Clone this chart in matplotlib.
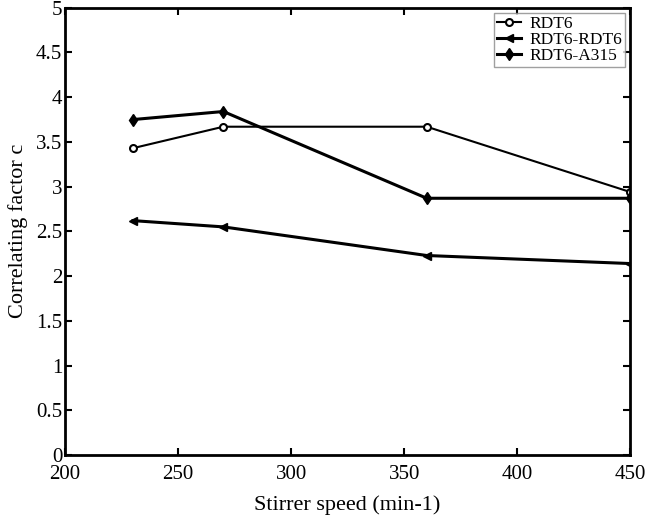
import matplotlib.pyplot as plt

speed = [230, 270, 360, 450]
rdt6 = [3.43, 3.67, 3.67, 2.94]
rdt6_rdt6 = [2.62, 2.55, 2.23, 2.14]
rdt6_a315 = [3.75, 3.84, 2.87, 2.87]

plt.rcParams['font.family'] = ['Liberation Serif', 'DejaVu Serif']

fig = plt.figure(figsize=(6.45, 5.17), dpi=100)
ax = fig.add_axes([0.101, 0.12, 0.876, 0.865])

ax.plot(speed, rdt6, color='black', lw=1.5, marker='o', ms=5,
        mfc='white', mew=1.5, label='RDT6')
ax.plot(speed, rdt6_rdt6, color='black', lw=2.2, marker='<', ms=6,
        mfc='black', label='RDT6-RDT6')
ax.plot(speed, rdt6_a315, color='black', lw=2.2, marker='d', ms=6,
        mfc='black', label='RDT6-A315')

ax.set_xlim(200, 450)
ax.set_ylim(0, 5)
ax.set_xticks([200, 250, 300, 350, 400, 450])
ax.set_yticks([0, 0.5, 1, 1.5, 2, 2.5, 3, 3.5, 4, 4.5, 5])
ax.set_yticklabels(['0', '0.5', '1', '1.5', '2', '2.5', '3', '3.5', '4', '4.5', '5'])
ax.tick_params(direction='in', top=True, right=True, length=5, width=1.5,
               labelsize=15, pad=2)
ax.tick_params(axis='x', pad=7)
for s in ax.spines.values():
    s.set_linewidth(2)

ax.set_xlabel('Stirrer speed (min-1)', fontsize=16, labelpad=8)
ax.set_ylabel('Correlating factor c', fontsize=16, labelpad=6)

leg = ax.legend(loc='upper right', fontsize=12.5, frameon=True, fancybox=False,
                handlelength=1.4, borderpad=0.15, labelspacing=0.0,
                handletextpad=0.5, borderaxespad=0.3)
leg.get_frame().set_edgecolor('#888888')
leg.get_frame().set_linewidth(1)

fig.savefig('out.png', dpi=100)
